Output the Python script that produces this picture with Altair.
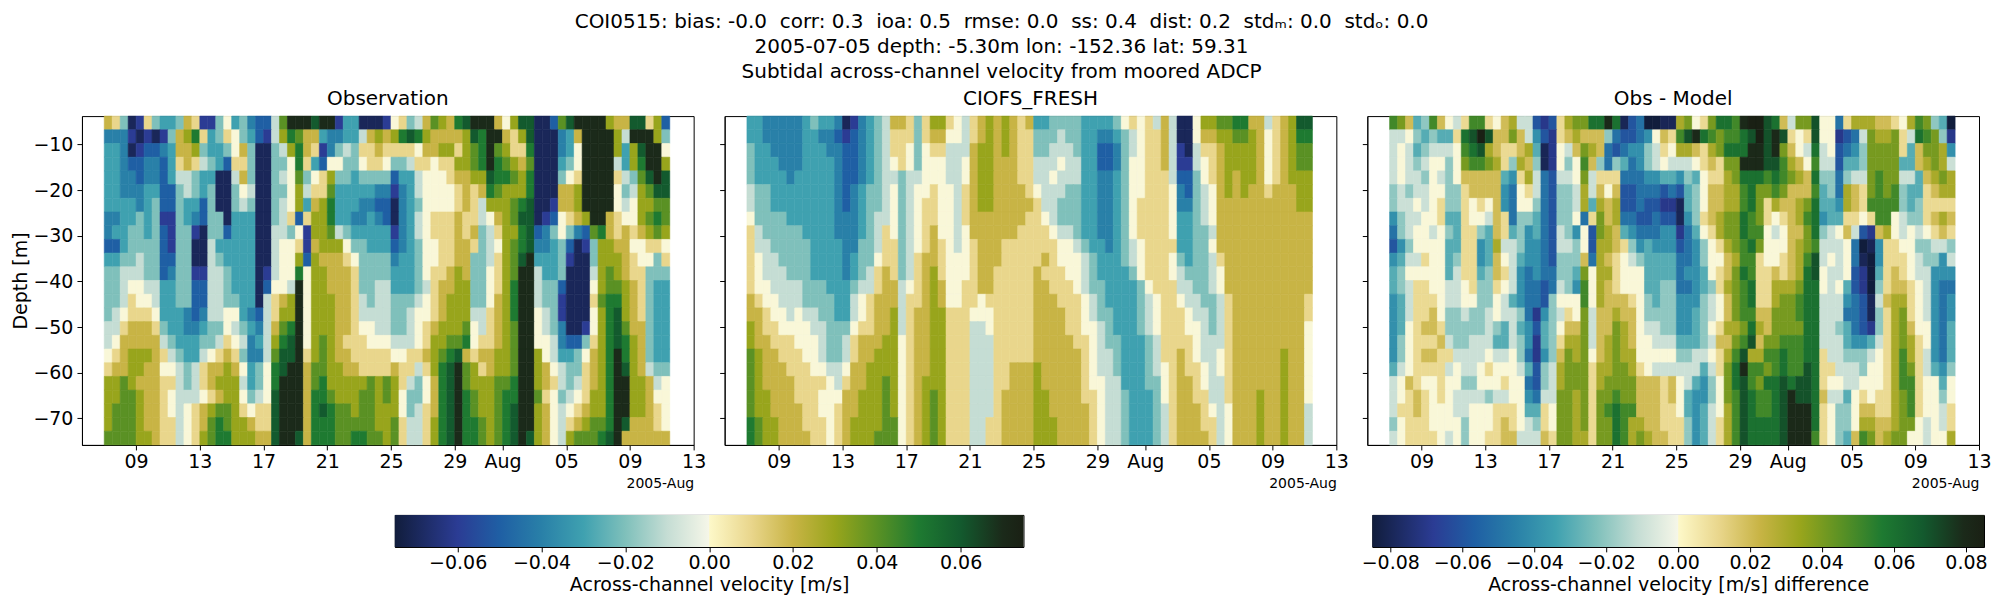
import altair as alt
import pandas as pd

# one character per cell, 0.01 m/s apart: g = -0.07 ... 0 = 0.00 ... 7 = +0.07
LEVELS = "gfedcba01234567"

# ADCP bin centres (m), top to bottom
depths = [-5.3, -8.3, -11.3, -14.3, -17.3, -20.3, -23.3, -26.3, -29.3, -32.3, -35.3, -38.3,
          -41.3, -44.3, -47.3, -50.3, -53.3, -56.3, -59.3, -62.3, -65.3, -68.3, -71.3, -74.3]

# 71 half-day columns starting 2005-07-07 00:00, one string per depth bin
times = pd.date_range("2005-07-07", periods=71, freq="12h")

obs_rows = [
    "21bgf 1bccb 21ffb 0cbde ea477 7677f ccggg f01ba 24325 67772 0366g ge467 77732 26613 e",
    "dddfg fgfb2 351cb 10bce fa354 22cdd cca23 23565 32222 36577 2136g ggdc2 77773 a7773 b",
    "ccdgf eedc2 23bcc b02bg gba35 21fdb ab112 11110 22331 34574 3115g ggdc0 77773 c3677 0",
    "ccdee ddec1 21abc e11bg gbb05 1ce00 bb011 0bba1 10113 34575 4324g ggcb0 7777a c3577 3",
    "ccdde ddeca abccg ga2bg gba04 b013b bcbbb becca 00012 23365 5435g ggb01 77771 ab467 6",
    "ccddd cceeb abcbg gb0ag gbb03 a114c ccccd dfdca 00001 21254 3335g gg223 77770 ba346 6",
    "ccccd cbeeb ccebg gbabg gba03 c235c ccdde egdcb 00001 21a33 3456g gf223 77770 a0334 4",
    "ddccb cbffb cdebb gcccg gba1e 1335c cddcd egdca 01112 11a02 3466g fe012 37721 00345 4",
    "dccbb cbefb bfgbb ecccg gaab0 f334a bcccc cfdca 01112 12ba1 3356e db0bd e4521 21234 3",
    "eecbb bbefb bggac ccccg ga001 f2333 0bbcc cedcb 00112 21ba0 3456d dcbeg fb332 20011 0",
    "ccbba bbeeb bggab ccccg ga003 e3222 10bbb bdccb 00112 2bba1 3467c ccbfg gb333 2100b 1",
    "bbaaa bbedb bffaa bcccg fa005 03322 21bbb bcccb 01123 2bb01 3477a ccbgg ga343 211bb b",
    "bba00 aaccb beeaa bcccg e00a7 03322 21bba acccb a1223 3bb01 3577a bbegg g0344 321bc c",
    "bba10 0accb beeaa bbccg a1237 03332 21aba abbba 01233 3bb02 3577a bbfgg g1455 321bc c",
    "ba011 10ccc dedaa 00cde a1337 03332 21aaa abba0 01233 3aa12 35770 abfgg g0356 321bc c",
    "aa122 21bcc ddcbb 0abcd a2457 03332 2100a abba0 12333 40a12 34770 abdgg f0356 422bc c",
    "a0222 22abc ccbba 10adc a3567 03432 11100 0aaa0 13344 50112 34770 0adee b1356 532bc c",
    "01233 321ab cca01 21bdd a4667 13432 21111 10011 23456 21223 34773 0accb 02357 532bc c",
    "12233 2200a ba122 320cb 05677 24433 22111 1211a 13567 43123 34773 20abb 12357 632ab b",
    "33432 2211a ba123 33acb 05777 24533 33343 431ab 02567 43334 45773 21aba 12357 7332a 0",
    "33443 2210a aa012 330ba 06777 25543 33443 430bb 02567 54334 55774 10ba0 13357 73320 0",
    "34443 2210a 01234 43101 16777 25654 43443 330ba 12567 54334 56773 20a01 23357 73321 0",
    "34443 2211a 01245 43321 16777 25554 44443 341aa 13567 55434 56773 20a12 34457 62221 0",
    "44443 3211a 01345 53332 26776 25554 45544 341aa 13567 55434 56763 20a34 44567 22222 2",
]

model_rows = [
    "ccddd ddcbc cdgfd cba22 1b133 10a12 32321 2ccbb bbccc cb010 1a2ag g0334 45522 a1236 6",
    "ccddd ddccd defed cba11 1b122 00a12 32321 1bbba bbccd dcba0 112ag g0223 34432 01235 5",
    "bccdd ddccc ddeed cba11 0b011 aaa23 32321 1bbaa abcce edba0 112af ga112 33332 01234 4",
    "bcccd ddccc cdeed cba01 0b000 aa023 32221 1aaa0 aacce edb00 112af fa012 33332 01234 4",
    "bcccc dcccc cdeed cbaab aa000 aa023 32221 1aa0a aaccd dcb00 111ae eb012 32332 01233 3",
    "abbcc ccccc cdedc bba0b a0010 0a123 32222 10aaa bbccd dcb00 1110d eba02 32322 12223 3",
    "abbcc ccccc cdedc bba0b a0110 0a123 32222 21aab bbccd dcb01 1110d dba02 22222 22223 3",
    "0bbbb ccccc cdddc baa0b a0110 0a122 22222 110ab bbccd dcb01 1110c cba02 22222 22222 2",
    "1abbb bbccc cdddc ba10b a0120 0a022 22221 1110a abccd dcb01 1110c cbba2 22222 22222 2",
    "1aabb bbbcc ccddb ba11b a0121 0a012 22111 11110 0abcc dcba0 1111c cbb02 22222 22222 2",
    "10aab bbbcc ccdcb b011b a1221 00012 22111 11210 00abc ccba0 1110b cbba1 22222 22222 2",
    "10aaa bbbcc ccdcb a121b a1231 00012 21111 12111 00abc cccb0 1110a bbba0 22222 22222 2",
    "100aa aabbb cccba a122a 01232 00112 21111 12211 10abb ccccb 0111a abba0 22222 22222 2",
    "2100a aabbb bcca0 1222a 11232 00110 11111 12221 110ab ccccb a0110 aabba 12222 22222 1",
    "22100 a0aab bcca0 1223a 12233 11100 01111 12222 110ab bcccb a0111 0aaba 12222 22222 1",
    "32110 000aa bbb01 1223a 12233 111aa 01111 12222 1100a bcccb a0111 00aba 12222 22222 0",
    "32211 1000a bba12 22330 12233 111aa a1111 12222 2110a bbccc ba111 10aaa 12222 22222 0",
    "43221 1100a bba12 23330 12233 111aa a1111 12222 2210a abccc ba112 10aa0 12222 22322 0",
    "43222 11100 aa022 33330 12233 111aa a1122 23222 2210a abccc ba012 110a0 12222 22322 0",
    "43222 21111 0a122 33430 12333 111aa a1122 23222 22100 aaccc bb012 210aa 12222 22322 0",
    "43322 21110 00223 33430 12343 111aa a1222 23322 22110 aabcc cb012 211aa 12223 22322 0",
    "43322 22110 01223 33430 12343 111aa a1222 23322 22210 aabcc cba12 2210a 02223 22322 a",
    "54332 22111 01233 33440 12343 111aa 11222 23332 22210 aabcc cba12 2211a 02223 22322 a",
    "54332 22211 01233 34440 12343 111aa 11222 23332 22210 aabcc cba12 2221a 02223 22322 a",
]

depth_ticks = [-70, -60, -50, -40, -30, -20, -10]
date_ticks = [(7, 9), (7, 13), (7, 17), (7, 21), (7, 25), (7, 29), (8, 1), (8, 5), (8, 9), (8, 13)]
obs_ticks = [-0.06, -0.04, -0.02, 0.0, 0.02, 0.04, 0.06]
diff_ticks = [-0.08, -0.06, -0.04, -0.02, 0.0, 0.02, 0.04, 0.06, 0.08]

# cmocean "delta"-like ramp, as fractions of the colour range
cmap_pos = [0, 0.1, 0.1667, 0.2333, 0.3, 0.3667, 0.4333, 0.499, 0.501, 0.5667, 0.6333,
            0.7, 0.7667, 0.8333, 0.9, 0.9667, 1.0]
cmap_col = ["#111d3c", "#2b3c94", "#1f5fa4", "#2980a8", "#3fa1b0", "#7fc0bb", "#c5ddd4",
            "#f5f6e8", "#fdf8c8", "#e9d68c", "#c8b445", "#98a51c", "#5a9124", "#1e7a31",
            "#135a2e", "#1b2a1a", "#1a2014"]

FONT = "DejaVu Sans"
MINUS = "replace(format(datum.value, '{}'), '-', '\u2212')"


def cells(rows):
    recs = []
    for z, row in zip(depths, rows):
        for t, ch in zip(times, row.replace(" ", "")):
            recs.append({
                "t0": t.strftime("%Y-%m-%dT%H:%M:%SZ"),
                "t1": (t + pd.Timedelta(hours=12)).strftime("%Y-%m-%dT%H:%M:%SZ"),
                "z0": z + 1.5,
                "z1": z - 1.5,
                "v": (LEVELS.index(ch) - 7) / 100,
            })
    return pd.DataFrame(recs)


obs = cells(obs_rows)
model = cells(model_rows)
diff = obs.copy()
diff["v"] = obs["v"] - model["v"]


def utc(m, d, h=0, mi=0):
    return alt.DateTime(year=2005, month=m, date=d, hours=h, minutes=mi, utc=True)


def cmap(vmax):
    return alt.Scale(domain=[vmax * (2 * p - 1) for p in cmap_pos], range=cmap_col,
                     clamp=True, interpolate="rgb")


def panel(df, title, vmax, yaxis):
    return (
        alt.Chart(df)
        .mark_rect(strokeWidth=0.6)
        .encode(
            x=alt.X(
                "t0:T",
                scale=alt.Scale(type="utc", domain=[utc(7, 5, 14, 24), utc(8, 13)]),
                axis=alt.Axis(
                    values=[utc(m, d) for m, d in date_ticks],
                    labelExpr="utcdate(datum.value) == 1 ? utcFormat(datum.value, '%b') : utcFormat(datum.value, '%d')",
                    title="2005-Aug",
                    titleAnchor="end",
                    titleFontSize=14,
                    titleFontWeight="normal",
                    titlePadding=5,
                    labelFontSize=19,
                    labelPadding=3,
                    labelFlush=False,
                    labelOverlap=False,
                    tickSize=5,
                    grid=False,
                ),
            ),
            x2="t1:T",
            y=alt.Y("z0:Q", scale=alt.Scale(domain=[-75.8, -3.8], nice=False, zero=False), axis=yaxis),
            y2="z1:Q",
            color=alt.Color("v:Q", scale=cmap(vmax), legend=None),
            stroke=alt.Stroke("v:Q", scale=cmap(vmax), legend=None),
        )
        .properties(
            width=612,
            height=329,
            title=alt.TitleParams(title, fontSize=20, fontWeight="normal", anchor="middle", offset=7),
        )
    )


def colorbar(vmax, ticks, title, width):
    ramp = alt.Gradient(
        gradient="linear",
        stops=[alt.GradientStop(color=c, offset=p) for p, c in zip(cmap_pos, cmap_col)],
        x1=0, x2=1, y1=0, y2=0,
    )
    return (
        alt.Chart(pd.DataFrame({"lo": [-vmax], "hi": [vmax]}))
        .mark_rect(fill=ramp)
        .encode(
            x=alt.X(
                "lo:Q",
                scale=alt.Scale(domain=[-vmax, vmax], nice=False, zero=False),
                axis=alt.Axis(
                    values=ticks,
                    labelExpr=MINUS.format(".2f"),
                    labelFontSize=19,
                    labelPadding=2,
                    labelFlush=False,
                    labelOverlap=False,
                    tickSize=5,
                    grid=False,
                    title=title,
                    titleFontSize=19,
                    titleFontWeight="normal",
                    titlePadding=3,
                ),
            ),
            x2="hi:Q",
        )
        .properties(width=width, height=32)
    )


def spacer(width):
    return (
        alt.Chart(pd.DataFrame({"a": [0]}))
        .mark_point(opacity=0, size=1)
        .encode(x=alt.value(1), y=alt.value(1))
        .properties(width=width, height=32, view=alt.ViewBackground(strokeOpacity=0))
    )


left_axis = alt.Axis(
    values=depth_ticks,
    labelExpr=MINUS.format("d"),
    title="Depth [m]",
    titleFontSize=19,
    titleFontWeight="normal",
    titlePadding=5,
    labelFontSize=19,
    labelPadding=4,
    tickSize=5,
    minExtent=46,
    maxExtent=46,
    grid=False,
)
tick_axis = alt.Axis(values=depth_ticks, labels=False, title=None, tickSize=5, grid=False)

panels = alt.hconcat(
    panel(obs, "Observation", 0.075, left_axis),
    panel(model, "CIOFS_FRESH", 0.075, tick_axis),
    panel(diff, "Obs - Model", 0.085, tick_axis),
    spacing=31,
    bounds="flush",
).resolve_scale(color="independent", stroke="independent")

colorbars = alt.hconcat(
    spacer(313),
    colorbar(0.075, obs_ticks, "Across-channel velocity [m/s]", 629),
    spacer(349),
    colorbar(0.085, diff_ticks, "Across-channel velocity [m/s] difference", 612),
    spacing=0,
    bounds="flush",
)

chart = (
    alt.vconcat(panels, colorbars, spacing=22)
    .properties(
        title=alt.TitleParams(
            [
                "COI0515: bias: -0.0 \u00a0corr: 0.3 \u00a0ioa: 0.5 \u00a0rmse: 0.0 \u00a0ss: 0.4 \u00a0dist: 0.2 \u00a0std\u2098: 0.0 \u00a0std\u2092: 0.0",
                "2005-07-05 depth: -5.30m lon: -152.36 lat: 59.31",
                "Subtidal across-channel velocity from moored ADCP",
            ],
            fontSize=20,
            fontWeight="normal",
            anchor="middle",
            lineHeight=25,
            offset=6,
        ),
        padding={"left": 3, "top": 4, "right": 0, "bottom": 0},
    )
    .configure_view(stroke="black", strokeWidth=1)
    .configure_axis(labelFont=FONT, titleFont=FONT, labelColor="black", titleColor="black",
                    domainColor="black", tickColor="black")
    .configure_title(font=FONT, color="black")
)

chart.save("out.html", embed_options={"renderer": "svg", "actions": False})
